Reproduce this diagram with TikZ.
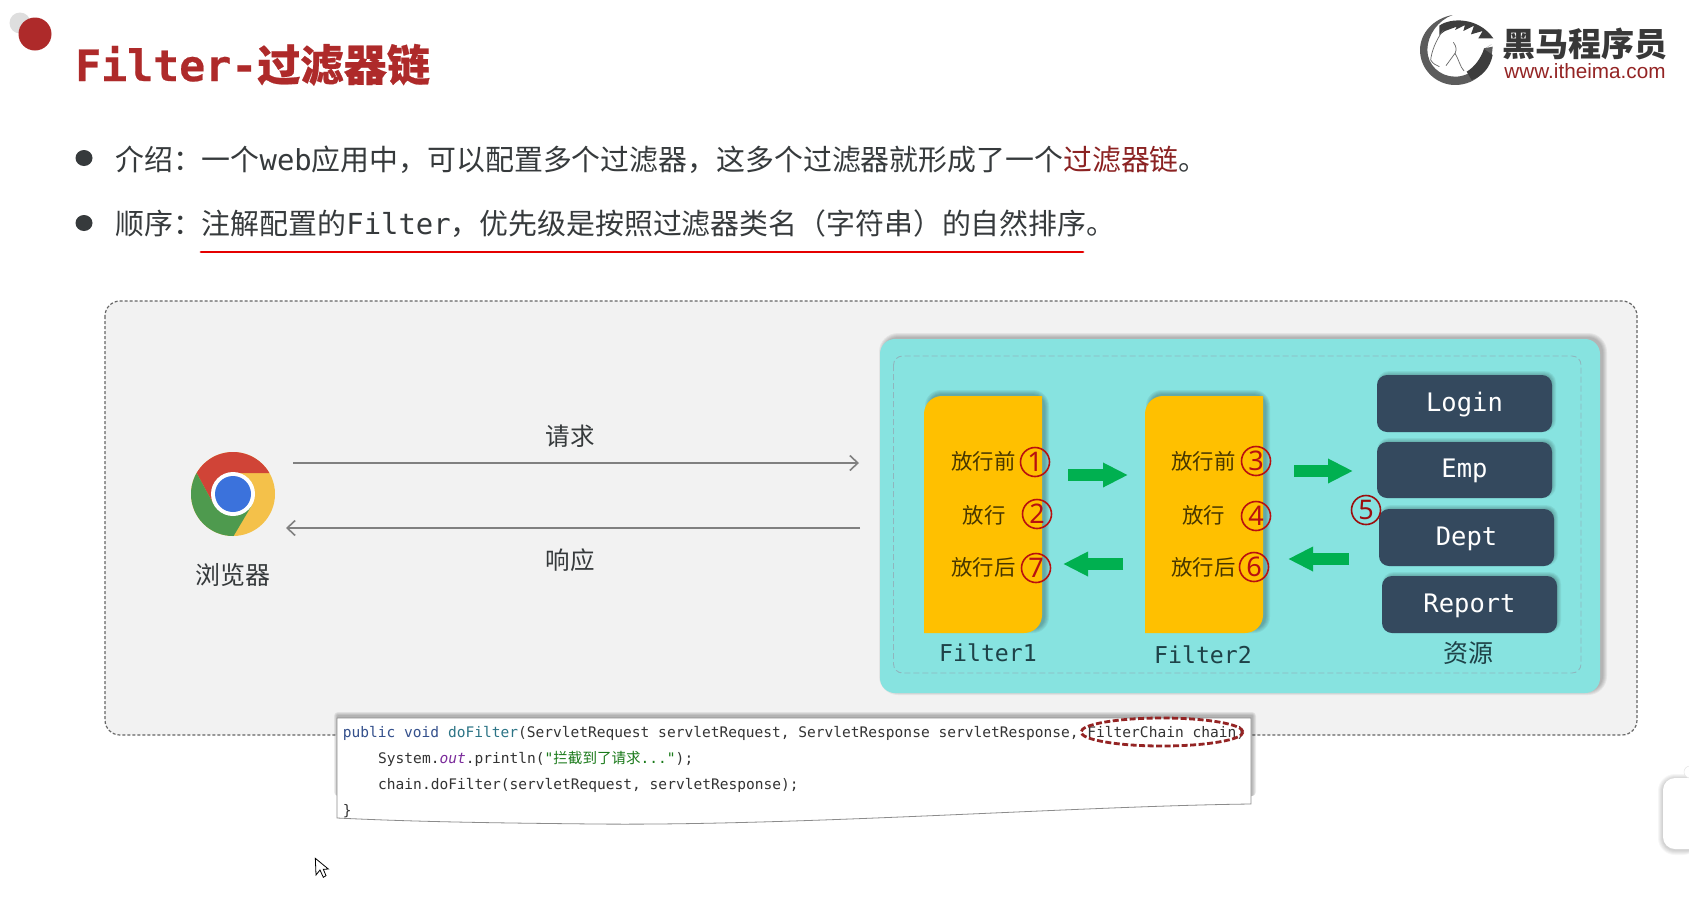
\documentclass[tikz,border=0pt]{standalone}
\usepackage{fontspec}
\usetikzlibrary{arrows.meta,shapes.geometric}
\setmainfont{Noto Sans CJK SC}
\newfontfamily\cjk{Noto Sans CJK SC}
\newfontfamily\cjkheavy[FakeBold=0.5]{Noto Sans CJK SC}
\newfontfamily\monof{DejaVu Sans Mono}
\newfontfamily\monoheavy[FakeBold=0.5]{DejaVu Sans Mono}
\newfontfamily\sansf{Liberation Sans}
\newfontfamily\digitf{Noto Sans}
\definecolor{bodytxt}{HTML}{363A3C}
\definecolor{titlered}{HTML}{AE2A2A}
\definecolor{panelgrey}{HTML}{F2F2F2}
\definecolor{tealbox}{HTML}{87E3E0}
\definecolor{filterY}{HTML}{FFC000}
\definecolor{navybox}{HTML}{34495E}
\definecolor{greenarr}{HTML}{00B050}
\definecolor{circred}{HTML}{B81010}
\definecolor{labeltxt}{HTML}{1E4248}
\definecolor{kw}{HTML}{34508C}
\definecolor{fn}{HTML}{2C7486}
\definecolor{str}{HTML}{1A7A1A}
\definecolor{outc}{HTML}{7A2A9A}
\definecolor{codetxt}{HTML}{333333}
\definecolor{innerdash}{HTML}{8FB6BE}
\newcommand{\fs}[1]{\fontsize{#1}{#1}\selectfont}
% x1 y1 x2 y2 radius dx dy
\newcommand{\softshadow}[7]{%
  \foreach \s in {4,3,2,1,0}{%
    \fill[black,opacity=0.055,rounded corners={(#5+\s)*1pt}]
      ({#1+#6-\s},{#2+#7-\s}) rectangle ({#3+#6+\s},{#4+#7+\s});
  }%
}
\tikzset{
  bodyline/.style={anchor=base west,inner sep=0pt,text=bodytxt,font=\cjk\fs{28.9}},
  dot/.style={ellipse,fill=bodytxt,minimum width=17pt,minimum height=16pt,inner sep=0pt},
  greylabel/.style={inner sep=0pt,text=bodytxt,font=\cjk\fs{24.5}},
  greyarrow/.style={draw=black!50,line width=1.6pt,-{Straight Barb[length=8pt,width=15pt,line width=1.6pt]}},
  greenarrow/.style={draw=greenarr,line width=12pt,-{Triangle[length=25pt,width=23pt]}},
  steptxt/.style={inner sep=0pt,text=black!72!filterY,font=\cjk\fs{21.4}},
  stepnum/.style={circle,draw=circred,line width=1.6pt,minimum size=29pt,inner sep=0pt,text=circred,font=\digitf\fs{27}},
  filterlabel/.style={inner sep=0pt,text=labeltxt,font=\monof\fs{23.2}},
  resbox/.style={fill=navybox,rounded corners=10pt,inner sep=0pt,text=white,font=\monof\fs{25.5},text height=20pt,text depth=5pt},
  codeline/.style={anchor=base west,inner sep=0pt,text=codetxt,font=\monof\fs{14.55}},
}
\begin{document}
\begin{tikzpicture}[x=1pt,y=-1pt]
\useasboundingbox (0,0) rectangle (1689,900);
\fill[white] (0,0) rectangle (1689,900);

% decoration dots
\fill[black!13] (20,23) circle (10.5);
\fill[titlered] (35,34) circle (16.5);

% title
\node[anchor=base west,inner sep=0pt,text=titlered] (title) at (75,81)
  {\monoheavy\bfseries\fs{43.2}Filter-{\cjkheavy\bfseries 过滤器链}};

% logo
\begin{scope}[shift={(1410,5)},x=0.3333pt,y=-0.3333pt]
  \fill[black!64] (128,30) .. controls (70,40) and (30,85) .. (30,135)
     .. controls (30,195) and (80,240) .. (135,240)
     .. controls (200,240) and (245,190) .. (248,125) -- (222,130)
     .. controls (220,175) and (185,215) .. (135,215)
     .. controls (90,215) and (52,180) .. (52,135)
     .. controls (52,90) and (85,45) .. (128,30) -- cycle;
  \fill[black!76] (88,62) .. controls (120,38) and (205,35) .. (250,100)
     -- (205,100) -- (218,78) -- (183,88) -- (192,62) -- (160,78) -- (165,60)
     -- (135,75) -- (140,65) -- (105,78) -- (88,90) -- cycle;
  \fill[black!76] (245,118) -- (222,132) -- (248,150) .. controls (240,190) and (215,215) .. (185,225) -- (170,200) .. controls (195,185) and (212,160) .. (222,132) -- cycle;
  \draw[black!60,line width=0.7pt] (100,75) .. controls (75,110) and (65,140) .. (62,165) .. controls (70,178) and (78,180) .. (88,185);
  \draw[black!60,line width=0.7pt] (130,112) .. controls (140,125) and (140,135) .. (135,145) -- (108,182);
  \draw[black!60,line width=0.7pt] (135,145) .. controls (145,160) and (150,185) .. (162,198);
\end{scope}
\node[inner sep=0pt,text=black!78,font=\cjk\bfseries\fs{33}] (brand) at (1585,44) {黑马程序员};
\node[inner sep=0pt,text=titlered!85!black,font=\sansf\fs{20.7}] (site) at (1585,71) {www.itheima.com};

% bullets
\node[dot] (b1) at (84,158) {};
\node[dot] (b2) at (84,223) {};
\node[bodyline] (l1) at (115,170)
  {介绍：一个{\monof web}应用中，可以配置多个过滤器，这多个过滤器就形成了一个{\color{titlered!80!black}过滤器链}。};
\node[bodyline] (l2) at (115,234)
  {顺序：注解配置的{\monof Filter}，优先级是按照过滤器类名（字符串）的自然排序。};
\coordinate (ulS) at (201,252);
\coordinate (ulE) at (1083,252);
\draw[draw=red!90!black,line width=2.7pt,line cap=round] (ulS) -- (ulE);

% outer panel
\draw[fill=panelgrey,draw=black!60,line width=1.2pt,dash pattern=on 3pt off 2pt,rounded corners=15pt]
  (105,301) rectangle (1637,735);

% browser
\begin{scope}
  \clip (233,494) circle (42);
  \fill[color={rgb,255:red,244;green,193;blue,74}] (180,440) rectangle (290,550);
  \fill[color={rgb,255:red,208;green,68;blue,55}] (269.4,473) -- (233,473) -- (214,505) -- (196.6,473) -- (185,440) -- (285,440) -- cycle;
  \fill[color={rgb,255:red,78;green,154;blue,78}] (196.6,473) -- (214,505) -- (252,505) -- (233,537) -- (233,550) -- (180,550) -- (180,473) -- cycle;
\end{scope}
\fill[white] (233,494) circle (22);
\fill[color={rgb,255:red,59;green,114;blue,220}] (233,494) circle (18);
\node[greylabel,font=\cjk\fs{25}] (browser) at (233,575) {浏览器};

% request / response
\coordinate (reqS) at (293,463);
\coordinate (reqE) at (859,463);
\coordinate (resS) at (860,528);
\coordinate (resE) at (286,528);
\draw[greyarrow] (reqS) -- (reqE);
\draw[greyarrow] (resS) -- (resE);
\node[greylabel] (req) at (570,436) {请求};
\node[greylabel] (res) at (570,560) {响应};

% teal container
\softshadow{880}{339}{1600}{693}{15}{3}{-2}
\fill[tealbox,rounded corners=15pt] (880,339) rectangle (1600,693);
\draw[draw=innerdash,line width=0.9pt,dash pattern=on 6pt off 3pt,rounded corners=9pt]
  (893.5,356) rectangle (1581,673);

% filters
\softshadow{926}{396}{1042}{631}{12}{3}{-2}
\softshadow{1147}{396}{1263}{631}{12}{3}{-2}
\fill[filterY] (924,633) -- (924,414) .. controls (924,404) and (932,396) .. (942,396)
   -- (1042,396) -- (1042,615) .. controls (1042,625) and (1034,633) .. (1024,633) -- cycle;
\fill[filterY] (1145,633) -- (1145,414) .. controls (1145,404) and (1153,396) .. (1163,396)
   -- (1263,396) -- (1263,615) .. controls (1263,625) and (1255,633) .. (1245,633) -- cycle;

\node[steptxt] (f1a) at (983.5,461) {放行前};
\node[steptxt] (f1b) at (984,515) {放行};
\node[steptxt] (f1c) at (983.5,567) {放行后};
\node[steptxt] (f2a) at (1203.5,461) {放行前};
\node[steptxt] (f2b) at (1203.5,515) {放行};
\node[steptxt] (f2c) at (1203.5,567) {放行后};
\node[stepnum] (n1) at (1035,462) {1};
\node[stepnum] (n2) at (1037,514) {2};
\node[stepnum] (n7) at (1036,568) {7};
\node[stepnum] (n3) at (1256,461) {3};
\node[stepnum] (n4) at (1256,516) {4};
\node[stepnum] (n6) at (1254,567) {6};
\node[filterlabel] (fl1) at (988,653) {Filter1};
\node[filterlabel] (fl2) at (1203,655) {Filter2};

% green arrows
\coordinate (g1S) at (1068,475);  \coordinate (g1E) at (1128,475);
\coordinate (g2S) at (1294,471);  \coordinate (g2E) at (1353,471);
\coordinate (g3S) at (1349,559);  \coordinate (g3E) at (1288,559);
\coordinate (g4S) at (1123,564);  \coordinate (g4E) at (1063,564);
\draw[greenarrow] (g1S) -- (g1E);
\draw[greenarrow] (g2S) -- (g2E);
\draw[greenarrow] (g3S) -- (g3E);
\draw[greenarrow] (g4S) -- (g4E);

% resources
\softshadow{1379}{377}{1550}{430}{8}{2}{-2}
\softshadow{1379}{444}{1550}{496}{8}{2}{-2}
\softshadow{1381}{511}{1552}{564}{8}{2}{-2}
\softshadow{1384}{578}{1555}{631}{8}{2}{-2}
\node[resbox,minimum width=175pt,minimum height=57pt] (login) at (1464.5,403.5) {Login};
\node[resbox,minimum width=175pt,minimum height=56pt] (emp) at (1464.5,470) {Emp};
\node[resbox,minimum width=175pt,minimum height=57pt] (dept) at (1466.5,537.5) {Dept};
\node[resbox,minimum width=175pt,minimum height=57pt] (report) at (1469.5,604.5) {Report};
\node[stepnum,draw=circred!85!black,text=circred!85!black] (n5) at (1366,510) {5};
\node[inner sep=0pt,text=labeltxt,font=\cjk\fs{25}] (ressrc) at (1468,653) {资源};

% code box shadow
\foreach \s in {4,3,2,1}{
  \fill[black,opacity=0.07,rounded corners={\s*1pt}] ({337+1-\s},{718-2-\s}) rectangle ({1251+1+\s},{796});
}
\draw[fill=white,draw=black!45,line width=0.8pt] (337,718) -- (1251,718) -- (1251,804)
  .. controls (1080,806) and (800,826) .. (595,824)
  .. controls (500,823) and (420,822) .. (337,818) -- cycle;
\node[codeline] (c1) at (342.7,737.5)
  {{\color{kw}public void} {\color{fn}doFilter}(ServletRequest servletRequest, ServletResponse servletResponse, FilterChain chain)};
\node[codeline] (c2) at (378,763.5)
  {System.{\color{outc}\itshape out}.println({\color{str}"{\cjk 拦截到了请求}..."});};
\node[codeline] (c3) at (378,789.5) {chain.doFilter(servletRequest, servletResponse);};
\node[codeline] (c4) at (342.7,815) {\}};
\node[ellipse,draw=titlered!85!black,line width=2.8pt,dash pattern=on 6pt off 2.5pt,minimum width=162pt,minimum height=28pt,inner sep=0pt] (chainmark) at (1162,732) {};

% floating white widget at right edge
\foreach \s in {5,4,3,2,1}{
  \fill[black,opacity=0.035,rounded corners={(12+\s)*1pt}] ({1663-\s},{778-\s+1}) rectangle (1700,{849+\s+1});
}
\fill[white,rounded corners=12pt] (1663,778) rectangle (1710,849);
\fill[white,draw=black!10,line width=0.5pt] (1690,772) circle (6);

% mouse cursor
\begin{scope}[shift={(300,845)},x=0.3333pt,y=-0.3333pt]
  \draw[fill=white,draw=black,line width=0.8pt,line join=miter]
    (46,40) -- (48,90) -- (60,75) -- (70,97) -- (78,92) -- (70,73) -- (85,72) -- cycle;
\end{scope}
\end{tikzpicture}
\end{document}
